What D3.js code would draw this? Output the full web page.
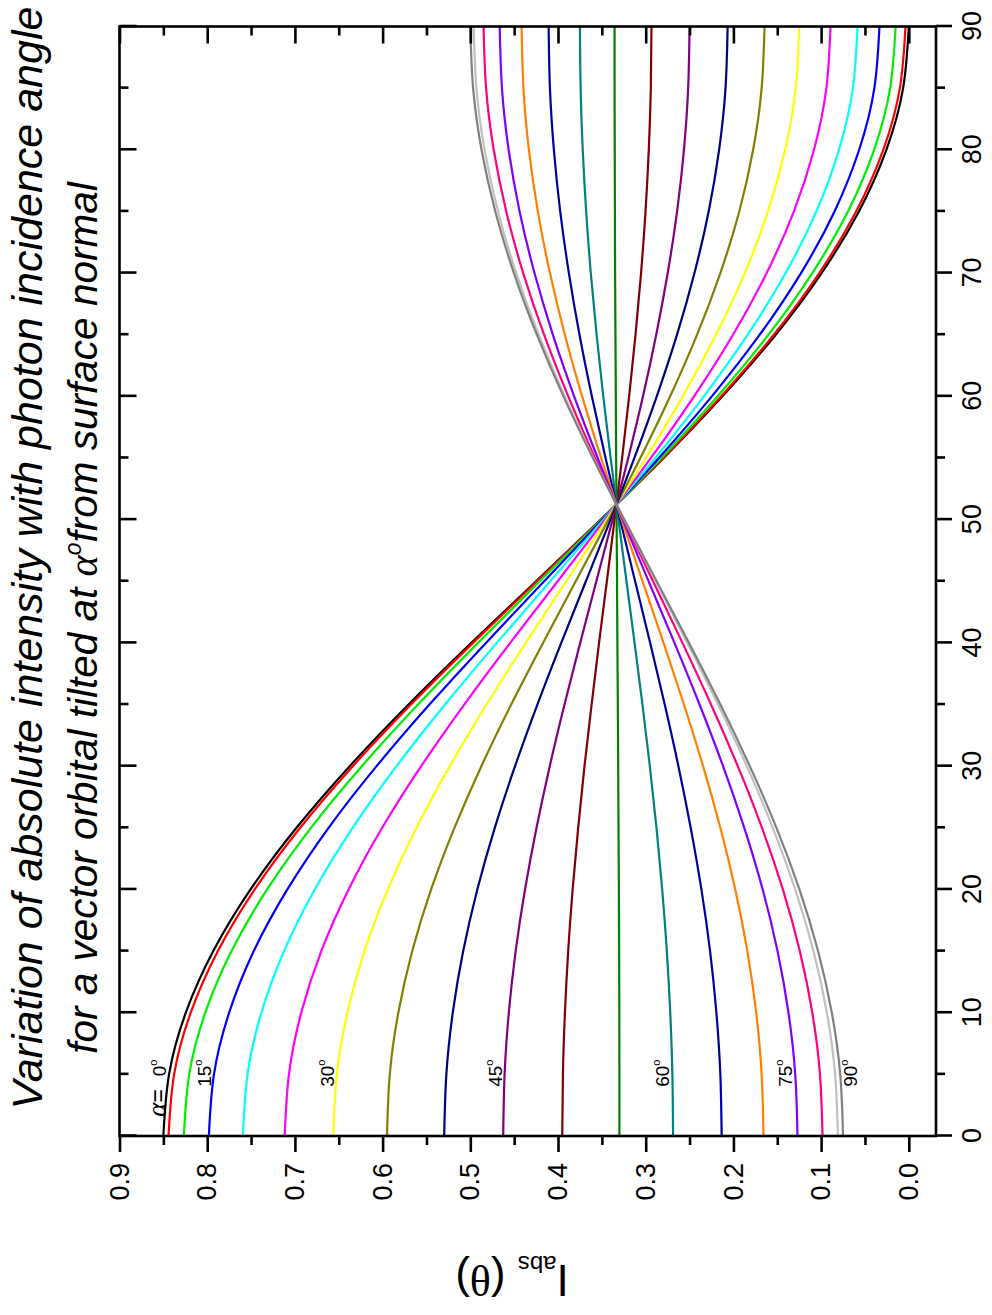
<!DOCTYPE html>
<html>
<head>
<meta charset="utf-8">
<script src="https://cdn.jsdelivr.net/npm/d3@7"></script>
<style>
  body { margin: 0; background: #fff; }
  text { font-family: "Liberation Sans", Arial, sans-serif; fill: #000; }
</style>
</head>
<body>
<svg id="chart" width="992" height="1315"></svg>
<script>
// tilt angles (deg) of the vector orbital, one curve each
const alphas = [0, 5, 10, 15, 20, 25, 30, 35, 40, 45, 50, 55, 60, 65, 70, 75, 80, 85, 90];
// photon incidence angles (deg) where the curves were read
const thetas = [0, 5, 10, 15, 20, 25, 30, 35, 40, 45, 50, 55, 60, 65, 70, 75, 80, 85, 90];

// I_abs(theta), one row per alpha
const intensity = [
  [0.8500, 0.8435, 0.8244, 0.7931, 0.7506, 0.6982, 0.6375, 0.5704, 0.4988, 0.4250, 0.3512, 0.2796, 0.2125, 0.1518, 0.0994, 0.0569, 0.0256, 0.0065, 0.0000],
  [0.8441, 0.8377, 0.8188, 0.7878, 0.7458, 0.6940, 0.6340, 0.5677, 0.4969, 0.4240, 0.3510, 0.2802, 0.2139, 0.1539, 0.1021, 0.0601, 0.0291, 0.0102, 0.0038],
  [0.8266, 0.8205, 0.8022, 0.7723, 0.7317, 0.6817, 0.6237, 0.5596, 0.4913, 0.4209, 0.3504, 0.2821, 0.2180, 0.1600, 0.1100, 0.0694, 0.0396, 0.0213, 0.0151],
  [0.7981, 0.7923, 0.7750, 0.7469, 0.7086, 0.6616, 0.6069, 0.5466, 0.4822, 0.4158, 0.3494, 0.2850, 0.2246, 0.1700, 0.1229, 0.0847, 0.0566, 0.0393, 0.0335],
  [0.7593, 0.7540, 0.7382, 0.7124, 0.6774, 0.6342, 0.5841, 0.5288, 0.4698, 0.4089, 0.3481, 0.2891, 0.2337, 0.1837, 0.1405, 0.1054, 0.0796, 0.0638, 0.0585],
  [0.7116, 0.7068, 0.6928, 0.6699, 0.6388, 0.6005, 0.5560, 0.5069, 0.4545, 0.4004, 0.3464, 0.2940, 0.2449, 0.2004, 0.1621, 0.1310, 0.1081, 0.0940, 0.0893],
  [0.6563, 0.6522, 0.6402, 0.6207, 0.5941, 0.5614, 0.5234, 0.4815, 0.4368, 0.3906, 0.3445, 0.2998, 0.2578, 0.2199, 0.1871, 0.1606, 0.1410, 0.1290, 0.1250],
  [0.5950, 0.5918, 0.5821, 0.5662, 0.5447, 0.5181, 0.4874, 0.4534, 0.4171, 0.3798, 0.3424, 0.3061, 0.2721, 0.2414, 0.2149, 0.1933, 0.1775, 0.1678, 0.1645],
  [0.5298, 0.5273, 0.5200, 0.5081, 0.4920, 0.4721, 0.4490, 0.4235, 0.3963, 0.3682, 0.3401, 0.3129, 0.2874, 0.2643, 0.2444, 0.2282, 0.2163, 0.2090, 0.2066],
  [0.4625, 0.4609, 0.4561, 0.4483, 0.4376, 0.4245, 0.4094, 0.3926, 0.3747, 0.3563, 0.3378, 0.3199, 0.3031, 0.2880, 0.2749, 0.2642, 0.2564, 0.2516, 0.2500],
  [0.3952, 0.3944, 0.3921, 0.3884, 0.3833, 0.3770, 0.3698, 0.3617, 0.3532, 0.3443, 0.3355, 0.3269, 0.3189, 0.3116, 0.3053, 0.3002, 0.2965, 0.2942, 0.2934],
  [0.3300, 0.3300, 0.3301, 0.3303, 0.3306, 0.3310, 0.3314, 0.3318, 0.3323, 0.3327, 0.3332, 0.3337, 0.3341, 0.3345, 0.3349, 0.3351, 0.3353, 0.3355, 0.3355],
  [0.2688, 0.2696, 0.2720, 0.2759, 0.2812, 0.2877, 0.2953, 0.3037, 0.3127, 0.3219, 0.3311, 0.3400, 0.3484, 0.3560, 0.3626, 0.3679, 0.3718, 0.3742, 0.3750],
  [0.2134, 0.2149, 0.2194, 0.2266, 0.2365, 0.2487, 0.2627, 0.2783, 0.2949, 0.3121, 0.3292, 0.3458, 0.3614, 0.3755, 0.3876, 0.3975, 0.4047, 0.4092, 0.4107],
  [0.1657, 0.1678, 0.1740, 0.1841, 0.1979, 0.2149, 0.2346, 0.2564, 0.2796, 0.3036, 0.3275, 0.3508, 0.3725, 0.3922, 0.4092, 0.4230, 0.4332, 0.4394, 0.4415],
  [0.1269, 0.1295, 0.1372, 0.1497, 0.1666, 0.1876, 0.2118, 0.2386, 0.2672, 0.2967, 0.3262, 0.3548, 0.3816, 0.4059, 0.4268, 0.4438, 0.4563, 0.4639, 0.4665],
  [0.0984, 0.1013, 0.1100, 0.1243, 0.1436, 0.1674, 0.1950, 0.2255, 0.2581, 0.2916, 0.3252, 0.3578, 0.3883, 0.4159, 0.4397, 0.4590, 0.4733, 0.4820, 0.4849],
  [0.0809, 0.0840, 0.0934, 0.1087, 0.1295, 0.1551, 0.1847, 0.2175, 0.2525, 0.2885, 0.3246, 0.3596, 0.3924, 0.4220, 0.4476, 0.4684, 0.4837, 0.4930, 0.4962],
  [0.0750, 0.0782, 0.0878, 0.1035, 0.1247, 0.1509, 0.1813, 0.2148, 0.2506, 0.2875, 0.3244, 0.3602, 0.3938, 0.4241, 0.4503, 0.4715, 0.4872, 0.4968, 0.5000]
];

const thetaTicks = [0, 10, 20, 30, 40, 50, 60, 70, 80, 90];
const thetaMinor = [5, 15, 25, 35, 45, 55, 65, 75, 85];
const intensityTicks = [0.0, 0.1, 0.2, 0.3, 0.4, 0.5, 0.6, 0.7, 0.8, 0.9];
const intensityMinor = [0.05, 0.15, 0.25, 0.35, 0.45, 0.55, 0.65, 0.75, 0.85];
const labelAlphas = [0, 15, 30, 45, 60, 75, 90];

const colors = ['#000000', '#ff0000', '#00ee00', '#0000ff', '#00ffff', '#ff00ff', '#ffff00', '#808000', '#000080',
  '#800080', '#800000', '#008000', '#008080', '#0000a0', '#ff8000', '#8000ff', '#ff0080', '#c0c0c0', '#808080'];

const svg = d3.select('#chart');
svg.append('rect').attr('width', 992).attr('height', 1315).attr('fill', '#fff');

// whole chart is drawn upright in a 1315 x 992 frame, then turned a quarter left
const g = svg.append('g').attr('transform', 'translate(0,1315) rotate(-90)');

const plotL = 179, plotR = 1288.5, plotT = 119.5, plotB = 936;
const x = d3.scaleLinear().domain([0, 90]).range([plotL, plotR]);
const y = d3.scaleLinear().domain([-0.031, 0.9]).range([plotB, plotT]);

// ── CURVES ────────────────────────────────────────────────
const line = d3.line()
  .x((d, i) => x(thetas[i]))
  .y(d => y(d))
  .curve(d3.curveNatural);

g.append('g').selectAll('path')
  .data(intensity)
  .join('path')
  .attr('d', line)
  .attr('fill', 'none')
  .attr('stroke', (d, i) => colors[i])
  .attr('stroke-width', 2.2);

// ── AXES ──────────────────────────────────────────────────
const styleAxis = (sel) => {
  sel.select('.domain').remove();
  sel.selectAll('line').attr('stroke', '#000').attr('stroke-width', 2.6);
  sel.selectAll('text').attr('font-size', 27).attr('font-family', '"Liberation Sans", Arial, sans-serif').attr('fill', '#000');
};

g.append('g').attr('transform', `translate(${plotL},0)`)
  .call(d3.axisLeft(y).tickValues(intensityTicks).tickFormat(d3.format('.1f')).tickSize(16).tickPadding(11))
  .call(styleAxis);
g.append('g').attr('transform', `translate(${plotL},0)`)
  .call(d3.axisLeft(y).tickValues(intensityMinor).tickFormat('').tickSize(9))
  .call(styleAxis);

g.append('g').attr('transform', `translate(0,${plotB})`)
  .call(d3.axisBottom(x).tickValues(thetaTicks).tickSize(16).tickPadding(10))
  .call(styleAxis);
g.append('g').attr('transform', `translate(0,${plotB})`)
  .call(d3.axisBottom(x).tickValues(thetaMinor).tickFormat('').tickSize(9))
  .call(styleAxis);

// mirrored inner ticks on the opposite sides
g.append('g').attr('transform', `translate(0,${plotT})`)
  .call(d3.axisTop(x).tickValues(thetaTicks).tickFormat('').tickSize(-17))
  .call(styleAxis);
g.append('g').attr('transform', `translate(0,${plotT})`)
  .call(d3.axisTop(x).tickValues(thetaMinor).tickFormat('').tickSize(-9))
  .call(styleAxis);
g.append('g').attr('transform', `translate(${plotR},0)`)
  .call(d3.axisRight(y).tickValues(intensityTicks).tickFormat('').tickSize(-17))
  .call(styleAxis);
g.append('g').attr('transform', `translate(${plotR},0)`)
  .call(d3.axisRight(y).tickValues(intensityMinor).tickFormat('').tickSize(-9))
  .call(styleAxis);

g.append('rect')
  .attr('x', plotL).attr('y', plotT)
  .attr('width', plotR - plotL).attr('height', plotB - plotT)
  .attr('fill', 'none').attr('stroke', '#000').attr('stroke-width', 2.6);

// ── ALPHA LABELS ──────────────────────────────────────────
labelAlphas.forEach(a => {
  const v = intensity[alphas.indexOf(a)][1];
  const t = g.append('text')
    .attr('x', x(6.2))
    .attr('y', a === 90 ? y(v) + 17 : y(v) - 3)
    .attr('text-anchor', 'end')
    .attr('font-size', 19);
  if (a === 0) {
    t.append('tspan').attr('font-family', '"Liberation Serif", serif').attr('font-style', 'italic').attr('font-size', 27).text('α');
    t.append('tspan').attr('font-size', 23).text('=\u00a0\u00a0');
  }
  t.append('tspan').text(a);
  t.append('tspan').attr('font-size', 11).attr('dy', -9).text('o');
});

// ── TITLES ────────────────────────────────────────────────
g.append('text')
  .attr('x', 757).attr('y', 42)
  .attr('text-anchor', 'middle')
  .attr('font-size', 43).attr('font-style', 'italic')
  .text('Variation of absolute intensity with photon incidence angle');

const t2 = g.append('text')
  .attr('x', 697).attr('y', 97)
  .attr('text-anchor', 'middle')
  .attr('font-size', 40.5).attr('font-style', 'italic');
t2.append('tspan').text('for a vector orbital tilted at ');
t2.append('tspan').attr('font-family', '"Liberation Serif", serif').text('α');
t2.append('tspan').attr('font-size', 23).attr('dy', -16).text('o');
t2.append('tspan').attr('dy', 16).text('from surface normal');

const yt = g.append('text')
  .attr('transform', 'translate(50,512) rotate(-90)')
  .attr('text-anchor', 'middle')
  .attr('font-size', 44);
yt.append('tspan').text('I');
yt.append('tspan').attr('font-size', 24).attr('dy', 9).text('abs');
yt.append('tspan').attr('dy', -9).text('\u00a0(');
yt.append('tspan').attr('font-family', '"Liberation Serif", serif').text('θ');
yt.append('tspan').text(')');
</script>
</body>
</html>
